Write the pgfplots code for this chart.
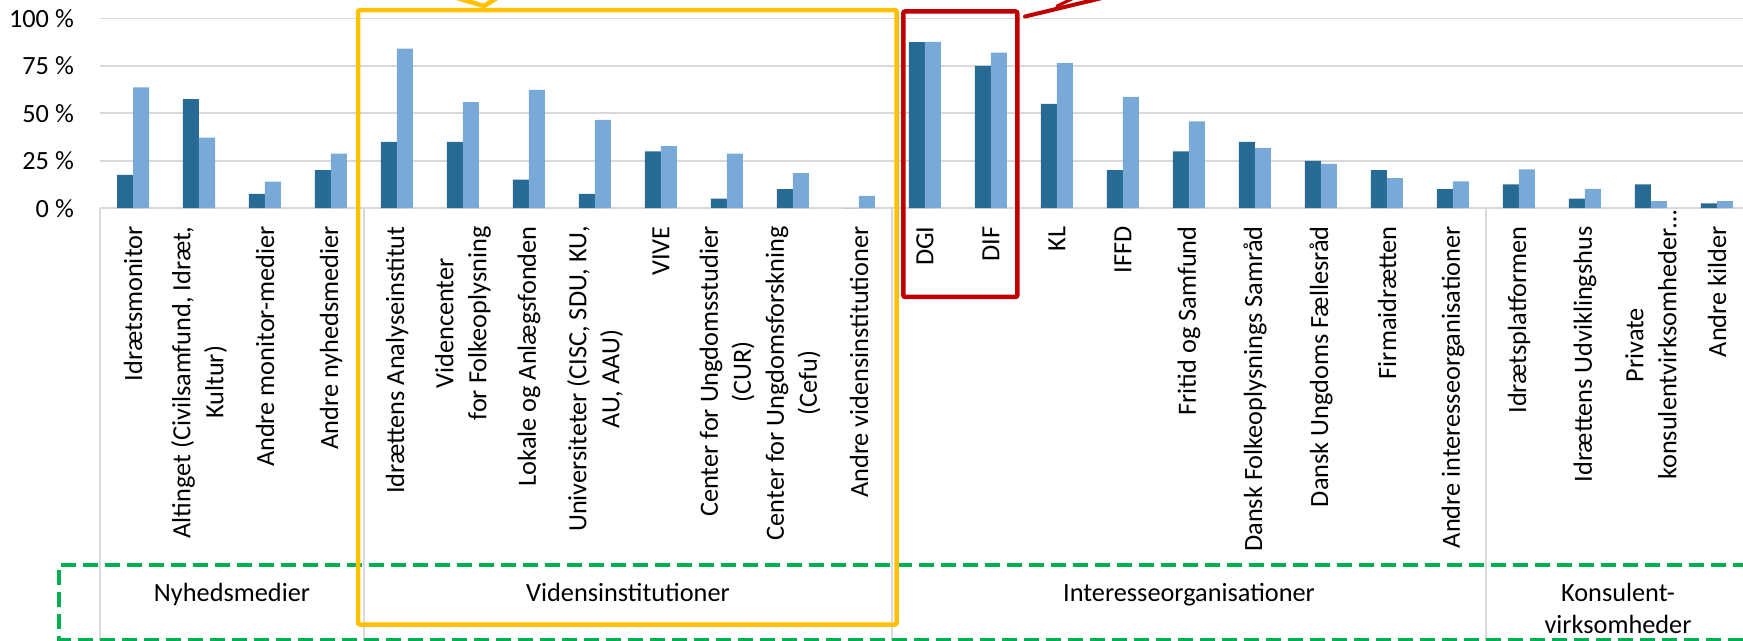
\documentclass[border=0pt]{standalone}
\usepackage{fontspec}
\setmainfont{Carlito}
\usepackage{pgfplots}
\pgfplotsset{compat=1.18}
\definecolor{darkbar}{HTML}{276A94}
\definecolor{lightbar}{HTML}{79A9D7}
\definecolor{gridgray}{HTML}{D9D9D9}
\definecolor{boxyellow}{HTML}{FFC000}
\definecolor{boxred}{HTML}{C00000}
\definecolor{boxgreen}{HTML}{00B050}
\newcommand{\lbl}{\fontsize{26.3}{33}\selectfont}

\begin{document}
\begin{tikzpicture}[x=1pt,y=1pt]
\begin{axis}[
  at={(100pt,431.8pt)}, anchor=south west,
  scale only axis, width=1650pt, height=189.8pt,
  xmin=-0.5, xmax=24.5, ymin=0, ymax=100,
  ybar=0pt, bar width=16pt,
  axis line style={draw=none},
  major tick length=0pt,
  ymajorgrids, grid style={gridgray, line width=1.6pt},
  ytick={0,25,50,75,100},
  yticklabels={0 \%,25 \%,50 \%,75 \%,100 \%},
  yticklabel style={anchor=east, inner sep=0pt, xshift=-26pt},
  xtick={0,...,22,24},
  xticklabels={
    {Idrætsmonitor},
    {Altinget (Civilsamfund, Idræt,\\Kultur)},
    {Andre monitor-medier},
    {Andre nyhedsmedier},
    {Idrættens Analyseinstitut},
    {Videncenter\\for Folkeoplysning},
    {Lokale og Anlægsfonden},
    {Universiteter (CISC, SDU, KU,\\AU, AAU)},
    {VIVE},
    {Center for Ungdomsstudier\\(CUR)},
    {Center for Ungdomsforskning\\(Cefu)},
    {Andre vidensinstitutioner},
    {DGI},
    {DIF},
    {KL},
    {IFFD},
    {Fritid og Samfund},
    {Dansk Folkeoplysnings Samråd},
    {Dansk Ungdoms Fællesråd},
    {Firmaidrætten},
    {Andre interesseorganisationer},
    {Idrætsplatformen},
    {Idrættens Udviklingshus},
    {Andre kilder}},
  extra x ticks={23},
  extra x tick labels={{Private\\konsulentvirksomheder…}},
  extra x tick style={xticklabel style={xshift=16pt}},
  xticklabel style={yshift=-18pt, rotate=90, anchor=east, align=center, inner sep=0pt},
  tick label style={font=\lbl, text=black},
  clip=false,
]
% dark series
\addplot[fill=darkbar, draw=none] coordinates {
  (0,17.5) (1,57.5) (2,7.5) (3,20) (4,35) (5,35) (6,15) (7,7.5)
  (8,30) (9,5) (10,10) (11,0) (12,87.5) (13,75) (14,55) (15,20)
  (16,30) (17,35) (18,25) (19,20) (20,10) (21,12.5) (22,5) (23,12.5) (24,2.5)
};
% light series
\addplot[fill=lightbar, draw=none] coordinates {
  (0,63.7) (1,37.2) (2,14) (3,28.8) (4,84.1) (5,55.9) (6,62.3) (7,46.6)
  (8,32.7) (9,28.8) (10,18.5) (11,6.5) (12,87.6) (13,82) (14,76.5) (15,58.7)
  (16,45.8) (17,31.8) (18,23.3) (19,15.9) (20,14.1) (21,20.5) (22,10.2) (23,3.7) (24,3.7)
};
% group separators
\draw[gridgray, line width=1.6pt] (axis cs:-0.5,0) -- (axis cs:-0.5,-235);
\draw[gridgray, line width=1.6pt] (axis cs:3.5,0) -- (axis cs:3.5,-235);
\draw[gridgray, line width=1.6pt] (axis cs:11.5,0) -- (axis cs:11.5,-235);
\draw[gridgray, line width=1.6pt] (axis cs:20.5,0) -- (axis cs:20.5,-235);
\end{axis}

% group labels
\node[anchor=base, font=\lbl] at (232,38) {Nyhedsmedier};
\node[anchor=base, font=\lbl] at (628,38) {Vidensinstitutioner};
\node[anchor=base, font=\lbl] at (1189,38) {Interesseorganisationer};
\node[anchor=base, font=\lbl] at (1618,38) {Konsulent-};
\node[anchor=base, font=\lbl] at (1618,7) {virksomheder};

% highlight frames
\draw[boxgreen, line width=4pt, dash pattern=on 15pt off 7pt] (1770,75) -- (59,75) -- (59,0.5) -- (1770,0.5);
\draw[boxyellow, line width=4.5pt, rounded corners=2pt] (358,15.5) rectangle (896.7,629.8);
\draw[boxyellow, line width=4.5pt] (457,642) -- (484,634) -- (497,642);
\draw[boxred, line width=4.5pt, rounded corners=2pt] (903.3,343) rectangle (1017.3,628.6);
\draw[boxred, line width=4pt, line cap=round] (1025,623.5) -- (1102,642);
\draw[boxred, line width=3pt, line cap=round] (1057,634) -- (1074,642);

\pgfresetboundingbox
\useasboundingbox (0,0) rectangle (1743,640);
\end{tikzpicture}
\end{document}
